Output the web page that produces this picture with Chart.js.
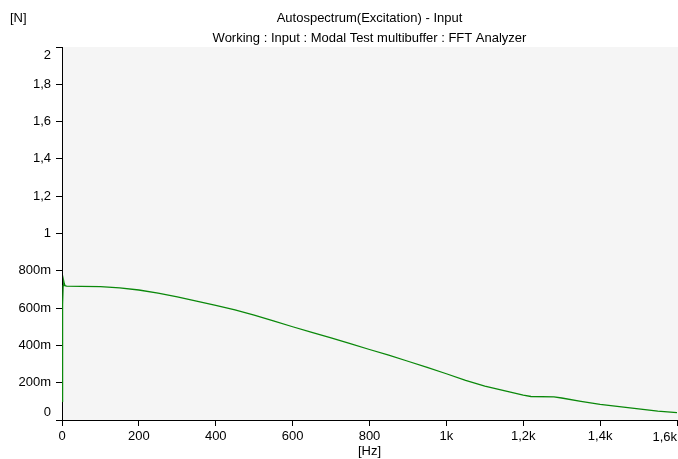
<!DOCTYPE html>
<html>
<head>
<meta charset="utf-8">
<script src="https://cdn.jsdelivr.net/npm/chart.js@4"></script>
<style>
  html, body { margin: 0; padding: 0; background: #fff; }
  #wrap { width: 678px; height: 459px; position: relative; }
</style>
</head>
<body>
<div id="wrap"><canvas id="spectrumChart"></canvas></div>
<script>
// Autospectrum data
const freqs = [0, 1, 2, 3, 4, 5, 6, 8, 12, 50, 100, 150, 200, 250, 300, 350, 400, 450, 500, 550, 600,
    650, 700, 750, 800, 850, 900, 950, 1000, 1050, 1100, 1150, 1200, 1220, 1280, 1300, 1350, 1400,
    1450, 1500, 1550, 1600];
const amplitude = [0.10, 0.35, 0.62, 0.72, 0.745, 0.745, 0.73, 0.72, 0.718, 0.717, 0.715, 0.708, 0.697,
    0.68, 0.66, 0.638, 0.615, 0.59, 0.562, 0.532, 0.50, 0.47, 0.44, 0.41, 0.378, 0.348, 0.315, 0.282,
    0.248, 0.212, 0.182, 0.157, 0.133, 0.126, 0.124, 0.118, 0.10, 0.084, 0.072, 0.06, 0.048, 0.04];
const xTicks = [0, 200, 400, 600, 800, 1000, 1200, 1400, 1600];
const yTicks = [0, 0.2, 0.4, 0.6, 0.8, 1, 1.2, 1.4, 1.6, 1.8, 2];

const titleText = 'Autospectrum(Excitation) - Input';
const subtitleText = 'Working : Input : Modal Test multibuffer : FFT Analyzer';
const FONT = '13px "Liberation Sans", Arial, sans-serif';

function fmtY(v) {
    const r = Math.round(v * 1000) / 1000;
    if (r === 0) return '0';
    if (r < 1) return Math.round(r * 1000) + 'm';
    return String(r).replace('.', ',');
}
function fmtX(v) {
    const r = Math.round(v);
    if (r >= 1000) return String(r / 1000).replace('.', ',') + 'k';
    return String(r);
}

const framePlugin = {
    id: 'frame',
    beforeDraw(chart) {
        const { ctx, chartArea: a } = chart;
        ctx.save();
        ctx.fillStyle = '#f5f5f5';
        ctx.fillRect(a.left, a.top, chart.width - a.left, a.bottom - a.top);
        ctx.restore();
    },
    afterDraw(chart) {
        const { ctx, chartArea: a } = chart;
        const xs = chart.scales.x, ys = chart.scales.y;
        const cx = (a.left + a.right) / 2;
        ctx.save();
        ctx.font = FONT;
        ctx.fillStyle = '#000';
        ctx.textBaseline = 'middle';
        ctx.textAlign = 'left';
        ctx.fillText('[N]', 10, 18);
        ctx.textAlign = 'center';
        ctx.fillText(titleText, cx, 18);
        ctx.fillText(subtitleText, cx, 38);
        // end labels nudged inside like the original
        ctx.textAlign = 'right';
        ctx.fillText(fmtY(yTicks[0]), a.left - 11, ys.getPixelForValue(yTicks[0]) - 8);
        ctx.fillText(fmtY(yTicks[yTicks.length - 1]), a.left - 11, ys.getPixelForValue(yTicks[yTicks.length - 1]) + 8);
        ctx.fillText(fmtX(xTicks[xTicks.length - 1]), xs.getPixelForValue(xTicks[xTicks.length - 1]), a.bottom + 17);
        ctx.restore();
    }
};

new Chart(document.getElementById('spectrumChart'), {
    type: 'line',
    data: {
        datasets: [{
            data: freqs.map((f, i) => ({ x: f, y: amplitude[i] })),
            borderColor: '#0a880a',
            borderWidth: 1.3,
            pointRadius: 0,
            tension: 0,
            fill: false
        }]
    },
    options: {
        responsive: true,
        maintainAspectRatio: false,
        animation: false,
        layout: { padding: { left: 0, right: 1, top: 47, bottom: 0 } },
        plugins: { legend: { display: false }, tooltip: { enabled: false }, title: { display: false } },
        scales: {
            x: {
                type: 'linear',
                min: 0, max: 1600,
                afterBuildTicks: s => { s.ticks = xTicks.map(v => ({ value: v })); },
                afterFit: s => { s.height = 39; s.paddingLeft = 0; s.paddingRight = 0; },
                ticks: {
                    callback: v => fmtX(v),
                    maxRotation: 0,
                    autoSkip: false,
                    padding: 3,
                    font: { family: '"Liberation Sans", Arial, sans-serif', size: 13 },
                    color: c => c.index === xTicks.length - 1 ? 'transparent' : '#000'
                },
                grid: { drawOnChartArea: false, drawTicks: true, tickLength: 6, color: '#000' },
                border: { display: true, color: '#000', width: 1 },
                title: {
                    display: true, text: '[Hz]', color: '#000', padding: 0,
                    font: { family: '"Liberation Sans", Arial, sans-serif', size: 13 }
                }
            },
            y: {
                type: 'linear',
                min: 0, max: 2,
                afterBuildTicks: s => { s.ticks = yTicks.map(v => ({ value: v })); },
                afterFit: s => { s.width = 62; s.paddingTop = 0; s.paddingBottom = 0; },
                ticks: {
                    callback: v => fmtY(v),
                    autoSkip: false,
                    padding: 5,
                    font: { family: '"Liberation Sans", Arial, sans-serif', size: 13 },
                    color: c => (c.index === 0 || c.index === yTicks.length - 1) ? 'transparent' : '#000'
                },
                grid: { drawOnChartArea: false, drawTicks: true, tickLength: 6, color: '#000' },
                border: { display: true, color: '#000', width: 1 }
            }
        }
    },
    plugins: [framePlugin]
});
</script>
</body>
</html>
